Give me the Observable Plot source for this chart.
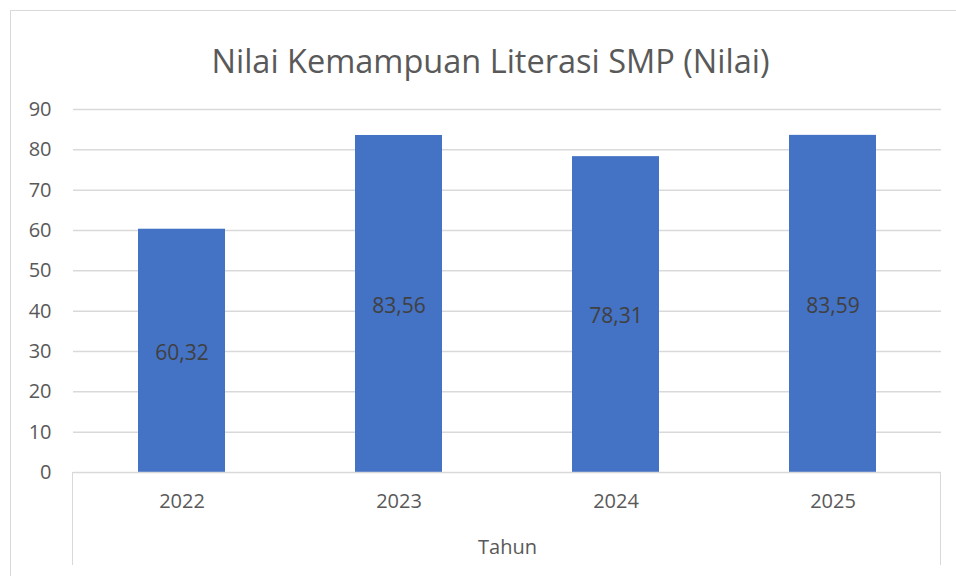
<!DOCTYPE html>
<html>
<head>
<meta charset="utf-8">
<script src="https://cdn.jsdelivr.net/npm/d3@7"></script>
<script src="https://cdn.jsdelivr.net/npm/@observablehq/plot@0.6"></script>
<style>
  html, body { margin: 0; padding: 0; background: #fff; }
  #wrap { position: relative; width: 956px; height: 576px; overflow: hidden; font-family: "Open Sans", sans-serif; }
  #border { position: absolute; left: 10px; top: 10px; width: 1000px; height: 700px; border: 1.5px solid #d9d9d9; box-sizing: border-box; }
  #chart { position: absolute; left: 0; top: 0; }
  .vline { position: absolute; width: 0; border-left: 1.5px solid #d9d9d9; top: 472px; height: 93px; }
</style>
</head>
<body>
<div id="wrap">
  <div id="border"></div>
  <div id="chart"></div>
  <div class="vline" style="left:72px"></div>
  <div class="vline" style="left:940px"></div>
</div>
<script>
const title = "Nilai Kemampuan Literasi SMP (Nilai)";
const years = ["2022", "2023", "2024", "2025"];
const values = [60.32, 83.56, 78.31, 83.59];
const yTicks = [0, 10, 20, 30, 40, 50, 60, 70, 80, 90];
const xLabel = "Tahun";

const data = years.map((y, i) => ({year: y, value: values[i]}));
const fmt = v => v.toFixed(2).replace(".", ",");

const chart = Plot.plot({
  width: 956,
  height: 576,
  marginLeft: 73,
  marginRight: 15,
  marginTop: 109,
  marginBottom: 104,
  style: {fontFamily: "Open Sans, sans-serif", background: "transparent", overflow: "visible"},
  x: {domain: years, paddingInner: 0.6, paddingOuter: 0.3, label: null},
  y: {domain: [0, 90], label: null},
  marks: [
    Plot.gridY(yTicks.filter(t => t > 0), {stroke: "#d9d9d9", strokeOpacity: 1, strokeWidth: 1.5}),
    Plot.barY(data, {x: "year", y: "value", fill: "#4472c4"}),
    Plot.ruleY([0], {stroke: "#d9d9d9", strokeWidth: 1.5}),
    Plot.text(data, {x: "year", y: d => d.value / 2, dy: 2, text: d => fmt(d.value), fill: "#404040", fontSize: 21}),
    Plot.axisY(yTicks, {tickSize: 0, tickPadding: 22, fontSize: 20, fill: "#595959", label: null}),
    Plot.axisX({tickSize: 0, tickPadding: 21, fontSize: 20, fill: "#595959", label: null}),
    Plot.text([xLabel], {frameAnchor: "bottom", dy: 81, fontSize: 20, fill: "#595959"}),
    Plot.text([title], {frameAnchor: "top", dx: -17, dy: -60, fontSize: 32.5, fill: "#595959"})
  ]
});
document.getElementById("chart").appendChild(chart);
</script>
</body>
</html>
